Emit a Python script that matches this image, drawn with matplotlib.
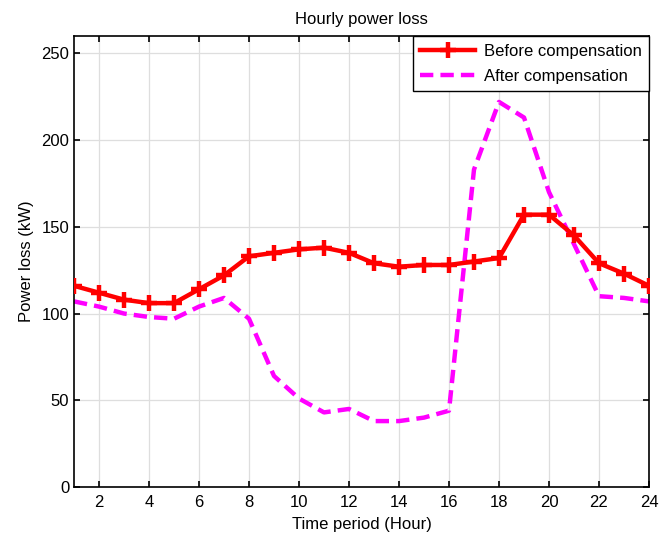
import matplotlib
matplotlib.use("Agg")
import matplotlib.pyplot as plt

hours = list(range(1, 25))
before = [116, 112, 108, 106, 106, 114, 122, 133, 135, 137, 138, 135,
          129, 127, 128, 128, 130, 132, 157, 157, 145, 129, 123, 116]
after = [107, 104, 100, 98, 97, 104, 109, 97, 64, 51, 43, 45,
         38, 38, 40, 44, 183, 222, 213, 170, 140, 110, 109, 107]
xticks = list(range(2, 25, 2))
yticks = [0, 50, 100, 150, 200, 250]

plt.rcParams['font.family'] = ['Liberation Sans', 'DejaVu Sans']
plt.rcParams['font.size'] = 12

fig = plt.figure(figsize=(6.7, 5.34), dpi=100)
ax = fig.add_axes([74/670, 1-487/534, (649-74)/670, (487-36)/534])

ax.plot(hours, before, '-', color='red', lw=3.2, marker='+', ms=11, mew=3.2,
        label='Before compensation', zorder=3)
ax.plot(hours, after, '--', color='magenta', lw=3.2, dashes=(3, 1.6),
        label='After compensation', zorder=2)

ax.set_xlim(1, 24)
ax.set_ylim(0, 260)
ax.set_xticks(xticks)
ax.set_yticks(yticks)
ax.grid(True, color='#dedede', lw=0.9)
ax.set_axisbelow(True)
ax.tick_params(direction='in', top=True, right=True, length=4, width=1.2, labelsize=12)
ax.tick_params(axis='x', pad=6)
for s in ax.spines.values():
    s.set_linewidth(1.2)

ax.set_title('Hourly power loss', fontsize=12, pad=9)
ax.set_xlabel('Time period (Hour)', fontsize=12, labelpad=5)
ax.set_ylabel('Power loss (kW)', fontsize=12, labelpad=5)

leg = ax.legend(loc='upper right', bbox_to_anchor=(1.0, 1.0), fancybox=False,
                edgecolor='black', framealpha=1, borderaxespad=0.0,
                handlelength=3.3, handletextpad=0.5, fontsize=12,
                borderpad=0.45, labelspacing=0.6)
leg.get_frame().set_linewidth(1.0)

fig.savefig('out.png', dpi=100)
